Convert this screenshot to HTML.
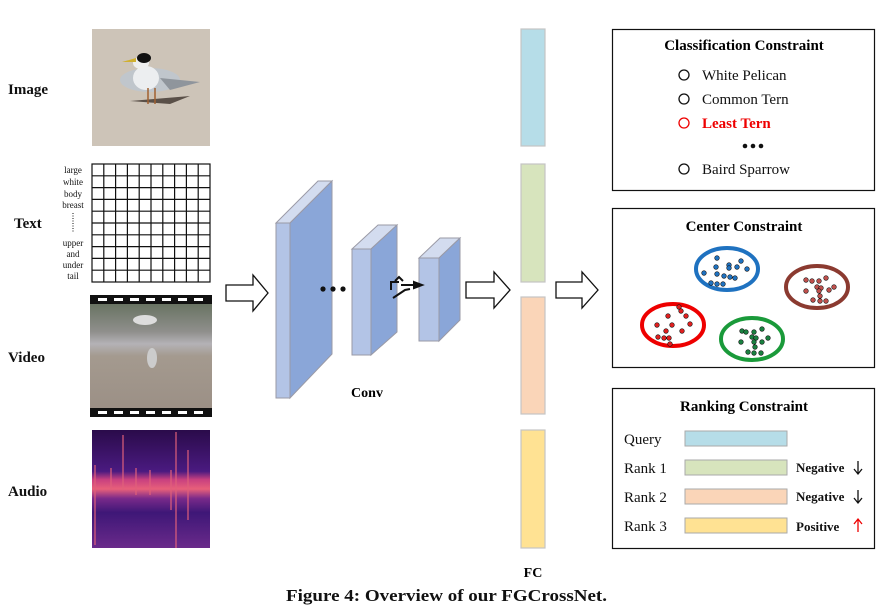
<!DOCTYPE html>
<html><head><meta charset="utf-8"><style>
html,body{margin:0;padding:0;background:#fff;}
svg{display:block;}
text{font-family:"Liberation Serif",serif;}
</style></head><body>
<svg width="885" height="615" viewBox="0 0 885 615" xmlns="http://www.w3.org/2000/svg">
<defs>
<linearGradient id="vid" x1="0" y1="0" x2="0" y2="1">
<stop offset="0" stop-color="#5c6a55"/><stop offset="0.3" stop-color="#8f8f8c"/><stop offset="0.4" stop-color="#b4b2b6"/><stop offset="0.5" stop-color="#a49a8f"/><stop offset="1" stop-color="#9a8e84"/>
</linearGradient>
<linearGradient id="aud" x1="0" y1="0" x2="0" y2="1">
<stop offset="0" stop-color="#2a0b4a"/><stop offset="0.35" stop-color="#4a1a80"/><stop offset="0.42" stop-color="#c84080"/><stop offset="0.5" stop-color="#e8607a"/><stop offset="0.58" stop-color="#7a2a8a"/><stop offset="0.7" stop-color="#3e1777"/><stop offset="1" stop-color="#6a2a8a"/>
</linearGradient>
</defs>

<g font-weight="bold" font-size="15" fill="#111">
<text x="8" y="94">Image</text>
<text x="14" y="228">Text</text>
<text x="8" y="362">Video</text>
<text x="8" y="496">Audio</text>
</g>

<rect x="92" y="29" width="118" height="117" fill="#cdc4b8"/>
<ellipse cx="150" cy="80" rx="30" ry="12" fill="#c0c6cc"/>
<polygon points="160,78 200,82 170,90" fill="#8f959c"/>
<ellipse cx="146" cy="78" rx="13" ry="12" fill="#eceef0"/>
<ellipse cx="141" cy="63" rx="8" ry="6" fill="#eee"/>
<ellipse cx="144" cy="58" rx="7" ry="5" fill="#111"/>
<polygon points="122,62 136,58 136,62" fill="#d0b030"/>
<polygon points="130,101 190,96 170,104" fill="#5a5048"/>
<line x1="148" y1="88" x2="148" y2="104" stroke="#a06030" stroke-width="1.5"/>
<line x1="155" y1="88" x2="155" y2="104" stroke="#a06030" stroke-width="1.5"/>

<g stroke="#111" stroke-width="1.2" fill="none">
<rect x="92" y="164" width="118" height="118"/>
<path d="M103.8 164V282M115.6 164V282M127.4 164V282M139.2 164V282M151 164V282M162.8 164V282M174.6 164V282M186.4 164V282M198.2 164V282
M92 175.8H210M92 187.6H210M92 199.4H210M92 211.2H210M92 223H210M92 234.8H210M92 246.6H210M92 258.4H210M92 270.2H210"/>
</g>
<g font-size="9" fill="#111" text-anchor="middle">
<text x="73" y="173">large</text>
<text x="73" y="185">white</text>
<text x="73" y="197">body</text>
<text x="73" y="208">breast</text>
<text x="73" y="246">upper</text>
<text x="73" y="257">and</text>
<text x="73" y="268">under</text>
<text x="73" y="279">tail</text>
</g>
<line x1="73" y1="213" x2="73" y2="232" stroke="#111" stroke-width="1" stroke-dasharray="1,1.5"/>

<rect x="90" y="295" width="122" height="122" fill="url(#vid)"/>
<rect x="90" y="295" width="122" height="9" fill="#111"/>
<rect x="90" y="408" width="122" height="9" fill="#111"/>
<g fill="#fff">
<rect x="98" y="298" width="9" height="3"/><rect x="114" y="298" width="9" height="3"/><rect x="130" y="298" width="9" height="3"/><rect x="146" y="298" width="9" height="3"/><rect x="162" y="298" width="9" height="3"/><rect x="178" y="298" width="9" height="3"/><rect x="194" y="298" width="9" height="3"/>
<rect x="98" y="411" width="9" height="3"/><rect x="114" y="411" width="9" height="3"/><rect x="130" y="411" width="9" height="3"/><rect x="146" y="411" width="9" height="3"/><rect x="162" y="411" width="9" height="3"/><rect x="178" y="411" width="9" height="3"/><rect x="194" y="411" width="9" height="3"/>
</g>
<ellipse cx="145" cy="320" rx="12" ry="5" fill="#ddd"/>
<ellipse cx="152" cy="358" rx="5" ry="10" fill="#ccc"/>

<rect x="92" y="430" width="118" height="118" fill="url(#aud)"/>
<g stroke="#e0607a" stroke-width="1.5" opacity="0.8">
<line x1="95" y1="465" x2="95" y2="545"/><line x1="111" y1="468" x2="111" y2="490"/><line x1="123" y1="435" x2="123" y2="490"/><line x1="136" y1="468" x2="136" y2="495"/><line x1="150" y1="470" x2="150" y2="495"/><line x1="171" y1="470" x2="171" y2="510"/><line x1="176" y1="432" x2="176" y2="548"/><line x1="188" y1="450" x2="188" y2="520"/>
</g>

<g fill="#fff" stroke="#111" stroke-width="1.3">
<polygon points="226,285 253,285 253,275 268,293 253,311 253,301 226,301"/>
<polygon points="466,282 494,282 494,272 510,290 494,308 494,298 466,298"/>
<polygon points="556,282 582,282 582,272 598,290 582,308 582,298 556,298"/>
</g>

<g stroke="#9a9aa6" stroke-width="1">
<polygon points="276,223 290,223 332,181 318,181" fill="#d3dcef"/>
<rect x="276" y="223" width="14" height="175" fill="#b3c4e6"/>
<polygon points="290,223 332,181 332,354 290,398" fill="#8aa6d8"/>
<polygon points="352,249 371,249 397,225 378,225" fill="#d3dcef"/>
<rect x="352" y="249" width="19" height="106" fill="#b3c4e6"/>
<polygon points="371,249 397,225 397,332 371,355" fill="#8aa6d8"/>
<polygon points="419,258 439,258 460,238 440,238" fill="#d3dcef"/>
<rect x="419" y="258" width="20" height="83" fill="#b3c4e6"/>
<polygon points="439,258 460,238 460,320 439,341" fill="#8aa6d8"/>
</g>
<g fill="#111"><circle cx="323" cy="289" r="2.6"/><circle cx="333" cy="289" r="2.6"/><circle cx="343" cy="289" r="2.6"/></g>
<g stroke="#111" stroke-width="2" fill="none">
<path d="M391 290 V282 H399 M395 281 L399 277 L403 281 M401 285 H414"/>
<path d="M393 298 L405 290 L410 289"/>
<polygon points="414,282 422,285 414,288" fill="#111"/>
</g>
<text x="367" y="397" font-weight="bold" font-size="14" text-anchor="middle">Conv</text>

<g stroke="#c4c4c4" stroke-width="1.2">
<rect x="521" y="29" width="24" height="117" fill="#b6dde8"/>
<rect x="521" y="164" width="24" height="118" fill="#d7e4bd"/>
<rect x="521" y="297" width="24" height="117" fill="#fad5b8"/>
<rect x="521" y="430" width="24" height="118" fill="#ffe293"/>
</g>
<text x="533" y="577" font-weight="bold" font-size="14" text-anchor="middle">FC</text>

<rect x="612.5" y="29.5" width="262" height="161" fill="#fff" stroke="#111" stroke-width="1.2"/>
<text x="744" y="50" font-weight="bold" font-size="15" text-anchor="middle">Classification Constraint</text>
<g fill="none" stroke="#111" stroke-width="1.3">
<circle cx="684" cy="75" r="5"/><circle cx="684" cy="99" r="5"/><circle cx="684" cy="169" r="5"/>
</g>
<circle cx="684" cy="123" r="5" fill="none" stroke="#e00" stroke-width="1.3"/>
<g font-size="15" fill="#111">
<text x="702" y="80">White Pelican</text>
<text x="702" y="104">Common Tern</text>
<text x="702" y="174">Baird Sparrow</text>
</g>
<text x="702" y="128" font-size="15" font-weight="bold" fill="#e00">Least Tern</text>
<g fill="#111"><circle cx="745" cy="146" r="2.3"/><circle cx="753" cy="146" r="2.3"/><circle cx="761" cy="146" r="2.3"/></g>

<rect x="612.5" y="208.5" width="262" height="159" fill="#fff" stroke="#111" stroke-width="1.2"/>
<text x="744" y="231" font-weight="bold" font-size="15" text-anchor="middle">Center Constraint</text>
<ellipse cx="727" cy="269" rx="31" ry="21" fill="none" stroke="#1f72c0" stroke-width="4"/>
<ellipse cx="817" cy="287" rx="31" ry="21" fill="none" stroke="#8b3a30" stroke-width="4"/>
<ellipse cx="673" cy="325" rx="31" ry="21" fill="none" stroke="#e00" stroke-width="4"/>
<ellipse cx="752" cy="339" rx="31" ry="21" fill="none" stroke="#1a9a3a" stroke-width="4"/>
<g stroke="#111" stroke-width="0.6">
<g fill="#1f72c0">
<circle cx="717" cy="258" r="2.3"/><circle cx="741" cy="261" r="2.3"/><circle cx="729" cy="265" r="2.3"/><circle cx="737" cy="267" r="2.3"/><circle cx="747" cy="269" r="2.3"/><circle cx="716" cy="267" r="2.3"/><circle cx="704" cy="273" r="2.3"/><circle cx="717" cy="274" r="2.3"/><circle cx="724" cy="276" r="2.3"/><circle cx="730" cy="277" r="2.3"/><circle cx="735" cy="278" r="2.3"/><circle cx="711" cy="283" r="2.3"/><circle cx="717" cy="284" r="2.3"/><circle cx="723" cy="284" r="2.3"/><circle cx="729" cy="268" r="2.3"/>
</g>
<g fill="#c0504d">
<circle cx="806" cy="280" r="2.3"/><circle cx="812" cy="281" r="2.3"/><circle cx="819" cy="281" r="2.3"/><circle cx="826" cy="278" r="2.3"/><circle cx="817" cy="287" r="2.3"/><circle cx="821" cy="288" r="2.3"/><circle cx="806" cy="291" r="2.3"/><circle cx="819" cy="291" r="2.3"/><circle cx="829" cy="290" r="2.3"/><circle cx="834" cy="287" r="2.3"/><circle cx="820" cy="296" r="2.3"/><circle cx="813" cy="300" r="2.3"/><circle cx="820" cy="301" r="2.3"/><circle cx="826" cy="301" r="2.3"/>
</g>
<g fill="#e02020">
<circle cx="679" cy="307" r="2.3"/><circle cx="681" cy="311" r="2.3"/><circle cx="668" cy="316" r="2.3"/><circle cx="686" cy="316" r="2.3"/><circle cx="657" cy="325" r="2.3"/><circle cx="672" cy="325" r="2.3"/><circle cx="690" cy="324" r="2.3"/><circle cx="666" cy="331" r="2.3"/><circle cx="682" cy="331" r="2.3"/><circle cx="658" cy="337" r="2.3"/><circle cx="664" cy="338" r="2.3"/><circle cx="669" cy="338" r="2.3"/><circle cx="670" cy="344" r="2.3"/>
</g>
<g fill="#1a8040">
<circle cx="742" cy="331" r="2.3"/><circle cx="746" cy="332" r="2.3"/><circle cx="754" cy="332" r="2.3"/><circle cx="762" cy="329" r="2.3"/><circle cx="752" cy="337" r="2.3"/><circle cx="756" cy="338" r="2.3"/><circle cx="741" cy="342" r="2.3"/><circle cx="754" cy="342" r="2.3"/><circle cx="762" cy="342" r="2.3"/><circle cx="768" cy="338" r="2.3"/><circle cx="755" cy="347" r="2.3"/><circle cx="748" cy="352" r="2.3"/><circle cx="754" cy="353" r="2.3"/><circle cx="761" cy="353" r="2.3"/>
</g>
</g>

<rect x="612.5" y="388.5" width="262" height="160" fill="#fff" stroke="#111" stroke-width="1.2"/>
<text x="744" y="411" font-weight="bold" font-size="15" text-anchor="middle">Ranking Constraint</text>
<g stroke="#aaa" stroke-width="1">
<rect x="685" y="431" width="102" height="15" fill="#b6dde8"/>
<rect x="685" y="460" width="102" height="15" fill="#d7e4bd"/>
<rect x="685" y="489" width="102" height="15" fill="#fad5b8"/>
<rect x="685" y="518" width="102" height="15" fill="#ffe293"/>
</g>
<g font-size="15" fill="#111">
<text x="624" y="444">Query</text>
<text x="624" y="473">Rank 1</text>
<text x="624" y="502">Rank 2</text>
<text x="624" y="531">Rank 3</text>
</g>
<g font-size="13" font-weight="bold" fill="#111">
<text x="796" y="472">Negative</text>
<text x="796" y="501">Negative</text>
<text x="796" y="531">Positive</text>
</g>
<g stroke="#111" stroke-width="1.3" fill="none">
<path d="M858 461V473M854 469L858 474L862 469"/>
<path d="M858 490V502M854 498L858 503L862 498"/>
</g>
<path d="M858 532V520M854 524L858 519L862 524" stroke="#e00" stroke-width="1.3" fill="none"/>

<text x="286" y="601" font-weight="bold" font-size="17" textLength="321" lengthAdjust="spacingAndGlyphs" fill="#111">Figure 4: Overview of our FGCrossNet.</text>
</svg>
</body></html>
